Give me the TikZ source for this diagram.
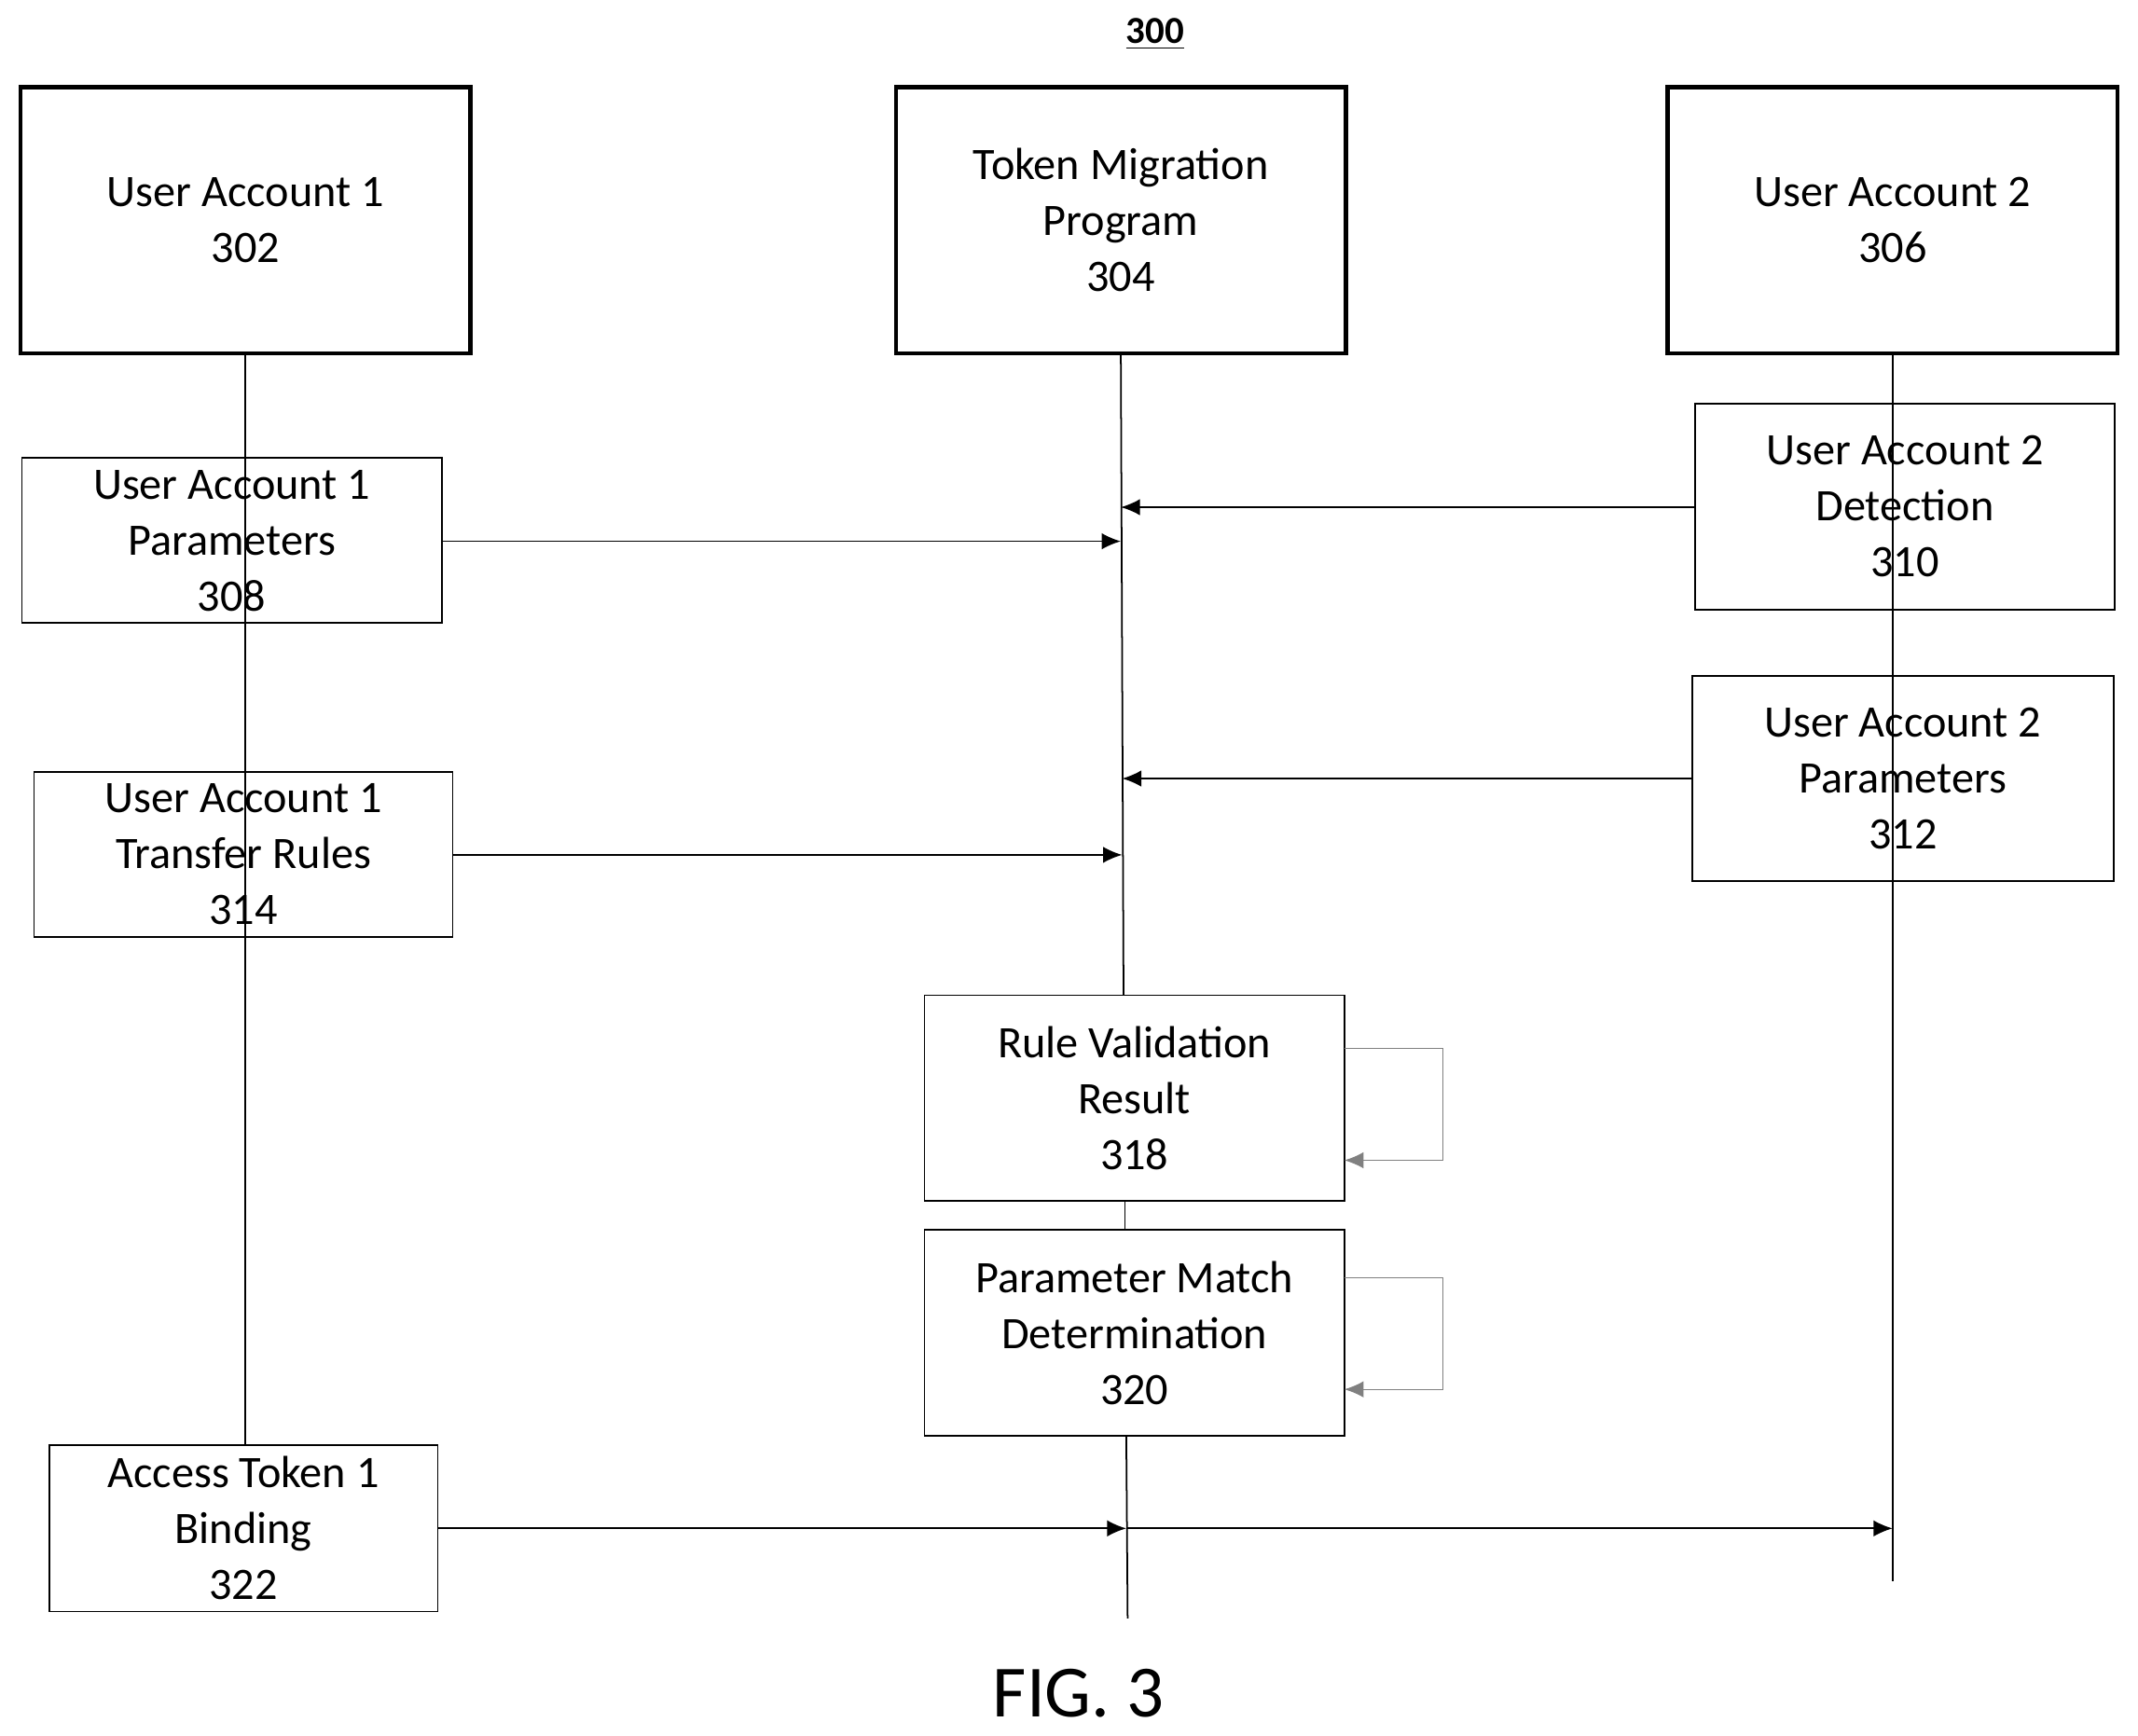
\documentclass[tikz,border=0pt]{standalone}
\usepackage{fontspec}
\setmainfont{Carlito}
\usetikzlibrary{arrows.meta}
\begin{document}
\begin{tikzpicture}[x=0.5pt,y=-0.5pt,
  big/.style={draw,line width=1.5pt,minimum width=165pt,minimum height=97.5pt,align=center,font=\fontsize{16.5}{20.5}\selectfont},
  box/.style={draw,line width=0.6pt,align=center,inner sep=0pt,font=\fontsize{16.5}{20.5}\selectfont},
  msg/.style={line width=0.6pt,-{Latex[length=7pt,width=6pt]}},
  life/.style={line width=0.6pt},
  loop/.style={gray,line width=0.4pt,-{Latex[length=7pt,width=6pt]}}]
\useasboundingbox (0,0) rectangle (1568,1273);
\node[font=\bfseries\fontsize{14}{16}\selectfont] (t) at (847,25) {\underline{300}};
\node[big] (a1) at (180,161.5) {User Account 1\\302};
\node[big] (tm) at (822,161.5) {Token Migration\\Program\\304};
\node[big] (a2) at (1388,161.5) {User Account 2\\306};
\coordinate (l1e) at (180,1060);
\coordinate (l2e) at (1388,1160);
\coordinate (lme) at (827,1187);
\draw[life] (a1.south) -- (l1e);
\draw[life] (a2.south) -- (l2e);
\draw[life] (tm.south) -- (824,730);
\draw[life] (825,881) -- (825,902);
\draw[life] (826,1053) -- (lme);
\node[box,minimum width=154pt,minimum height=60.5pt] (b308) at (170,396.5) {User Account 1\\Parameters\\308};
\node[box,minimum width=154pt,minimum height=75.5pt] (b310) at (1397,371.5) {User Account 2\\Detection\\310};
\node[box,minimum width=154.5pt,minimum height=75pt] (b312) at (1395.5,571) {User Account 2\\Parameters\\312};
\node[box,minimum width=153.5pt,minimum height=60.5pt] (b314) at (178.5,626.5) {User Account 1\\Transfer Rules\\314};
\node[box,minimum width=154pt,minimum height=75.5pt] (b318) at (832,805.5) {Rule Validation\\Result\\318};
\node[box,minimum width=154pt,minimum height=75.5pt] (b320) at (832,977.5) {Parameter Match\\Determination\\320};
\node[box,minimum width=142.5pt,minimum height=61pt] (b322) at (178.5,1121) {Access Token 1\\Binding\\322};
\coordinate (p1) at (822,397);
\coordinate (p2) at (822,372);
\coordinate (p3) at (823,571);
\coordinate (p4) at (823,627);
\coordinate (p5) at (826,1121);
\coordinate (p6) at (1388,1121);
\draw[msg] (b308.east |- p1) -- (p1);
\draw[msg] (b310.west |- p2) -- (p2);
\draw[msg] (b312.west |- p3) -- (p3);
\draw[msg] (b314.east |- p4) -- (p4);
\draw[msg] (b322.east |- p5) -- (p5);
\draw[msg] (p5) -- (p6);
\draw[loop] (986,769) -- (1058,769) -- (1058,851) -- (986,851);
\draw[loop] (986,937) -- (1058,937) -- (1058,1019) -- (986,1019);
\node[font=\fontsize{27}{30}\selectfont] (fig) at (791,1242) {FIG. 3};
\end{tikzpicture}
\end{document}
